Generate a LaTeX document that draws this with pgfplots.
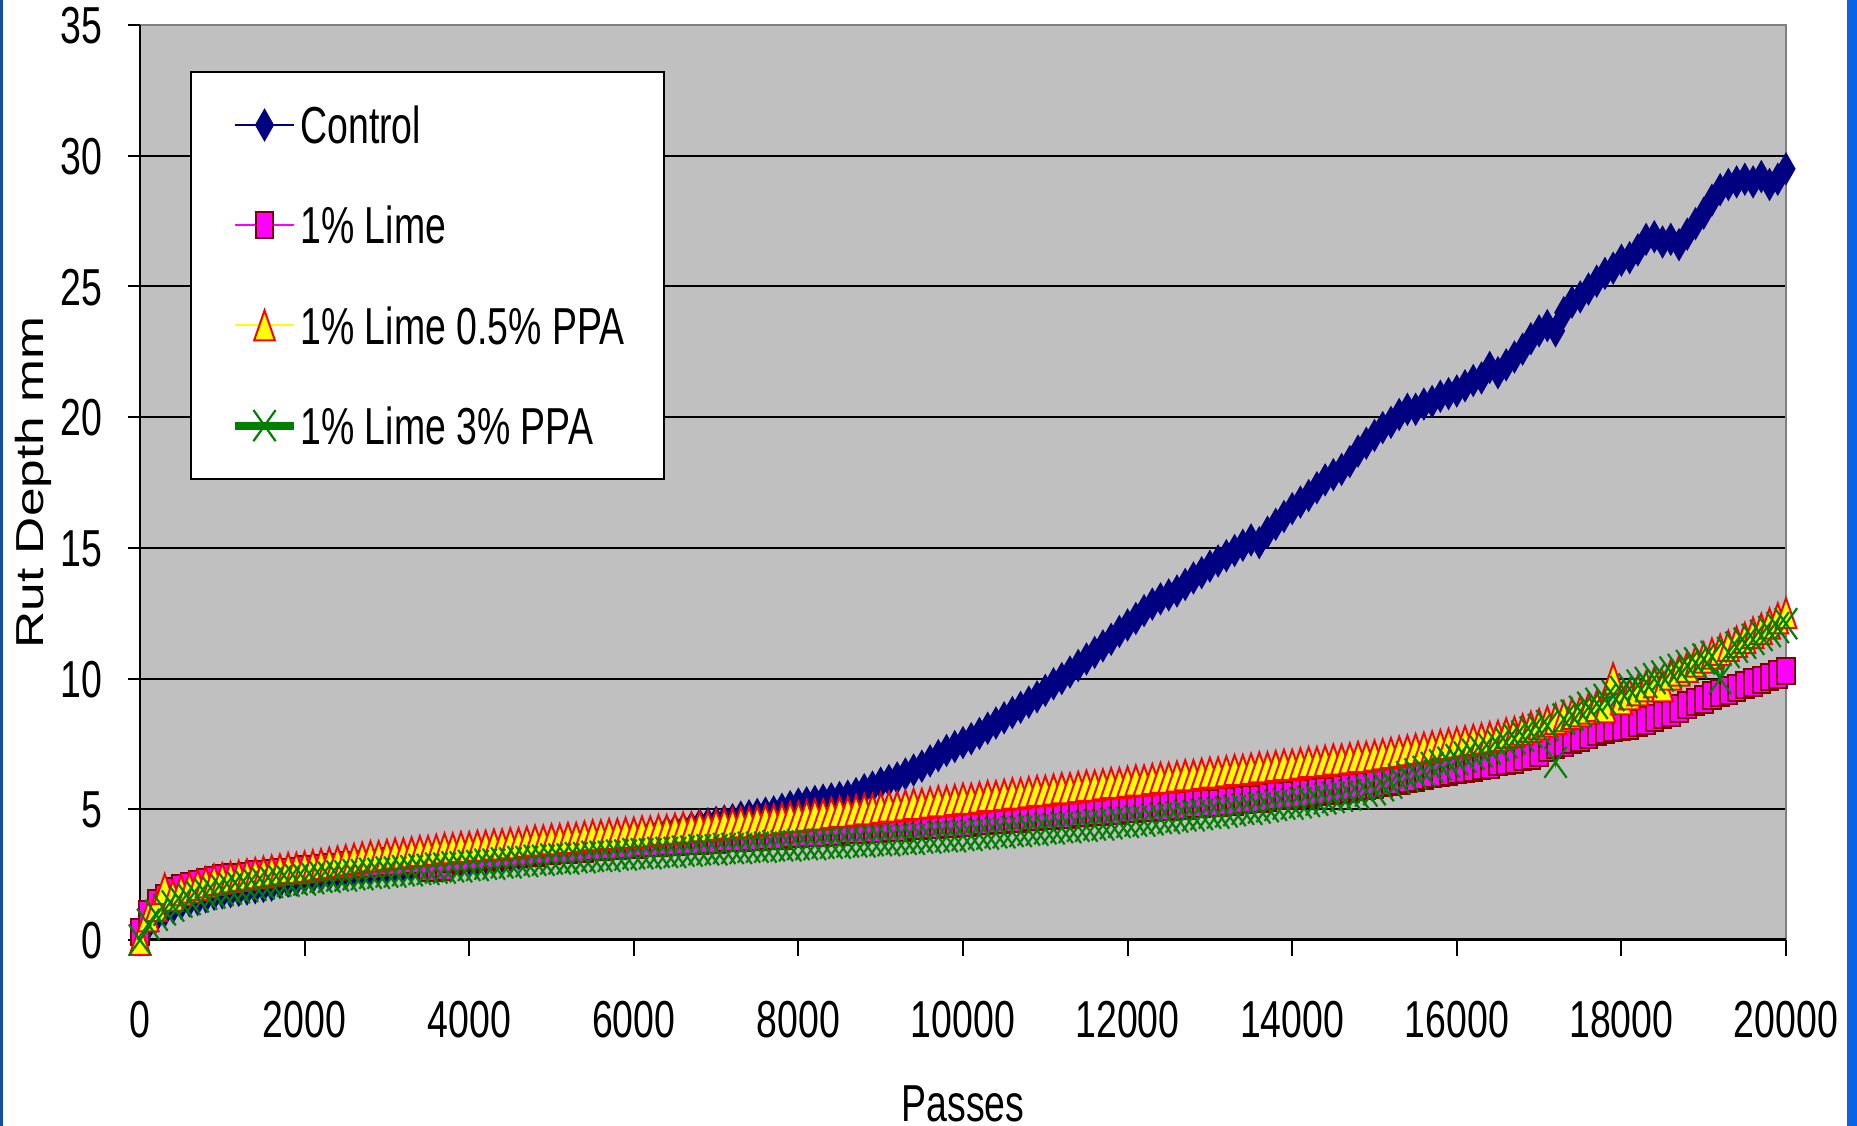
\documentclass[border=0pt]{standalone}
\usepackage{fontspec}
\setmainfont{Liberation Sans}[FakeStretch=0.72]
\newfontfamily\ylabfont{Liberation Sans}[FakeStretch=1.32]
\usepackage{pgfplots}
\pgfplotsset{compat=1.18}
\usepackage{pgfplotstable}

\definecolor{navy}{HTML}{000080}
\definecolor{limefill}{HTML}{FF00FF}
\definecolor{limeedge}{HTML}{800000}
\definecolor{ppayellow}{HTML}{FFFF00}
\definecolor{ppared}{HTML}{FF0000}
\definecolor{xgreen}{HTML}{008000}
\definecolor{plotgray}{HTML}{C0C0C0}
\definecolor{bordergray}{HTML}{808080}
\definecolor{leftblue}{HTML}{14509E}
\definecolor{rightblue}{HTML}{0A64E8}

% legend sample with a heavy line for the 3% PPA series
\pgfplotsset{thick green legend/.style={legend image code/.code={
    \draw[line width=2pt, xgreen] (0pt,0pt) -- (14.75pt,0pt);
    \draw[##1, only marks] plot coordinates {(7.375pt,0pt)};}}}

% rut depth (mm) against number of wheel passes
\pgfplotstableread{
x C L P G
0 0.0 0.3 0.0 0.0
100 0.6 1.0 0.9 0.6
200 0.9 1.4 1.3 0.95
300 1.1 1.6 1.95 1.15
400 1.25 1.85 1.7 1.3
500 1.4 2.0 1.9 1.45
600 1.5 2.05 2.0 1.55
700 1.55 2.15 2.1 1.65
800 1.65 2.2 2.2 1.75
900 1.75 2.3 2.3 1.8
1000 1.8 2.35 2.35 1.9
1100 1.85 2.4 2.4 1.95
1200 1.9 2.4 2.45 2.0
1300 1.95 2.45 2.5 2.05
1400 2.0 2.5 2.55 2.1
1500 2.05 2.5 2.6 2.15
1600 2.1 2.55 2.65 2.2
1700 2.2 2.6 2.7 2.25
1800 2.25 2.6 2.75 2.25
1900 2.3 2.65 2.75 2.3
2000 2.4 2.7 2.8 2.3
2100 2.4 2.7 2.85 2.35
2200 2.45 2.75 2.9 2.4
2300 2.5 2.8 2.95 2.4
2400 2.5 2.8 3.0 2.45
2500 2.55 2.85 3.05 2.45
2600 2.6 2.85 3.1 2.5
2700 2.65 2.9 3.15 2.5
2800 2.7 2.9 3.2 2.55
2900 2.75 2.95 3.2 2.55
3000 2.8 3.0 3.25 2.6
3100 2.8 3.0 3.3 2.6
3200 2.85 3.0 3.3 2.65
3300 2.85 3.05 3.35 2.65
3400 2.9 3.05 3.4 2.7
3500 2.9 2.75 3.4 2.7
3600 2.95 2.75 3.45 2.75
3700 3.0 2.8 3.5 2.75
3800 3.0 3.1 3.5 2.8
3900 3.05 3.15 3.55 2.8
4000 3.1 3.15 3.55 2.85
4100 3.1 3.2 3.6 2.85
4200 3.15 3.2 3.6 2.9
4300 3.2 3.25 3.65 2.9
4400 3.2 3.25 3.65 2.95
4500 3.25 3.3 3.7 2.95
4600 3.3 3.3 3.7 3.0
4700 3.35 3.35 3.75 3.0
4800 3.4 3.35 3.8 3.05
4900 3.45 3.4 3.8 3.05
5000 3.5 3.4 3.85 3.1
5100 3.5 3.45 3.85 3.1
5200 3.55 3.45 3.9 3.1
5300 3.6 3.5 3.9 3.15
5400 3.65 3.5 3.95 3.15
5500 3.7 3.55 4.0 3.2
5600 3.75 3.55 4.0 3.2
5700 3.8 3.6 4.05 3.2
5800 3.85 3.6 4.05 3.25
5900 3.9 3.65 4.1 3.25
6000 4.0 3.65 4.1 3.3
6100 4.0 3.7 4.15 3.3
6200 4.05 3.7 4.15 3.3
6300 4.1 3.7 4.2 3.35
6400 4.15 3.75 4.2 3.35
6500 4.2 3.75 4.25 3.35
6600 4.25 3.8 4.3 3.4
6700 4.3 3.8 4.3 3.4
6800 4.4 3.8 4.35 3.45
6900 4.45 3.85 4.35 3.45
7000 4.5 3.85 4.4 3.45
7100 4.55 3.9 4.45 3.5
7200 4.6 3.9 4.45 3.5
7300 4.7 3.9 4.5 3.5
7400 4.75 3.95 4.5 3.55
7500 4.8 3.95 4.55 3.55
7600 4.85 4.0 4.6 3.55
7700 4.9 4.0 4.6 3.6
7800 5.0 4.0 4.65 3.6
7900 5.1 4.05 4.7 3.6
8000 5.2 4.05 4.7 3.65
8100 5.25 4.1 4.75 3.65
8200 5.3 4.1 4.8 3.65
8300 5.35 4.1 4.8 3.7
8400 5.4 4.15 4.85 3.7
8500 5.45 4.15 4.9 3.7
8600 5.5 4.2 4.9 3.75
8700 5.6 4.2 4.95 3.75
8800 5.75 4.2 5.0 3.75
8900 5.85 4.25 5.0 3.8
9000 6.0 4.25 5.05 3.8
9100 6.1 4.3 5.1 3.8
9200 6.2 4.3 5.1 3.85
9300 6.35 4.3 5.15 3.85
9400 6.5 4.35 5.2 3.85
9500 6.65 4.35 5.2 3.9
9600 6.85 4.4 5.25 3.9
9700 7.05 4.4 5.3 3.95
9800 7.25 4.45 5.3 3.95
9900 7.4 4.45 5.35 3.95
10000 7.55 4.5 5.4 4.0
10100 7.7 4.5 5.4 4.0
10200 7.9 4.55 5.45 4.05
10300 8.1 4.55 5.5 4.05
10400 8.3 4.6 5.5 4.1
10500 8.5 4.6 5.55 4.1
10600 8.7 4.65 5.6 4.15
10700 8.9 4.65 5.6 4.15
10800 9.1 4.7 5.65 4.2
10900 9.3 4.7 5.7 4.2
11000 9.55 4.75 5.7 4.25
11100 9.8 4.75 5.75 4.25
11200 10.0 4.8 5.8 4.3
11300 10.25 4.8 5.8 4.3
11400 10.5 4.85 5.85 4.35
11500 10.75 4.85 5.9 4.35
11600 11.0 4.9 5.9 4.4
11700 11.25 4.9 5.95 4.4
11800 11.5 4.95 6.0 4.45
11900 11.8 4.95 6.0 4.5
12000 12.05 5.0 6.05 4.5
12100 12.3 5.0 6.1 4.55
12200 12.6 5.05 6.1 4.55
12300 12.85 5.05 6.15 4.6
12400 13.05 5.1 6.2 4.65
12500 13.2 5.1 6.2 4.65
12600 13.35 5.15 6.25 4.7
12700 13.6 5.15 6.3 4.75
12800 13.85 5.2 6.3 4.75
12900 14.05 5.2 6.35 4.8
13000 14.3 5.25 6.4 4.85
13100 14.5 5.25 6.4 4.85
13200 14.7 5.3 6.45 4.9
13300 14.9 5.3 6.5 4.95
13400 15.1 5.35 6.5 5.0
13500 15.3 5.4 6.55 5.0
13600 15.2 5.4 6.6 5.05
13700 15.6 5.45 6.6 5.1
13800 15.9 5.5 6.65 5.15
13900 16.2 5.5 6.7 5.2
14000 16.5 5.55 6.7 5.2
14100 16.75 5.6 6.75 5.25
14200 17.0 5.6 6.8 5.3
14300 17.3 5.65 6.8 5.35
14400 17.6 5.7 6.85 5.4
14500 17.8 5.7 6.9 5.45
14600 18.0 5.75 6.9 5.5
14700 18.3 5.8 6.95 5.55
14800 18.7 5.85 7.0 5.6
14900 19.0 5.9 7.0 5.7
15000 19.3 5.95 7.05 5.75
15100 19.6 6.0 7.1 5.9
15200 19.8 6.05 7.15 6.0
15300 20.1 6.1 7.2 6.15
15400 20.3 6.15 7.25 6.25
15500 20.3 6.2 7.3 6.35
15600 20.5 6.3 7.35 6.45
15700 20.6 6.35 7.4 6.6
15800 20.8 6.4 7.45 6.7
15900 20.9 6.45 7.5 6.8
16000 21.0 6.5 7.55 6.9
16100 21.2 6.55 7.6 7.0
16200 21.4 6.6 7.65 7.1
16300 21.5 6.65 7.7 7.2
16400 21.9 6.7 7.75 7.3
16500 21.7 6.8 7.8 7.45
16600 22.0 6.85 7.9 7.55
16700 22.3 6.9 7.95 7.7
16800 22.6 7.0 8.05 7.8
16900 23.0 7.05 8.15 7.95
17000 23.3 7.15 8.25 8.05
17100 23.5 7.35 8.35 8.2
17200 23.3 7.45 8.45 6.8
17300 24.0 7.55 8.55 8.45
17400 24.4 7.65 8.65 8.6
17500 24.6 7.75 8.75 8.75
17600 24.9 7.85 8.85 8.9
17700 25.2 7.95 8.95 9.05
17800 25.5 8.05 8.9 9.2
17900 25.7 8.1 10.0 9.35
18000 26.0 8.15 9.2 9.5
18100 26.1 8.2 9.4 9.6
18200 26.4 8.3 9.55 9.75
18300 26.8 8.4 9.7 9.85
18400 26.9 8.5 9.85 10.0
18500 26.7 8.6 9.7 10.1
18600 26.8 8.7 10.15 10.25
18700 26.6 8.85 10.3 10.35
18800 27.0 9.0 10.45 10.5
18900 27.4 9.1 10.65 10.6
19000 27.8 9.2 10.8 10.75
19100 28.3 9.35 10.95 10.85
19200 28.7 9.45 11.1 10.0
19300 28.9 9.55 11.25 11.0
19400 29.0 9.65 11.4 11.2
19500 29.1 9.75 11.55 11.35
19600 29.0 9.85 11.75 11.5
19700 29.2 9.95 11.9 11.65
19800 28.9 10.05 12.1 11.8
19900 29.1 10.15 12.3 11.95
20000 29.5 10.3 12.5 12.1
}\rutdata

\newcommand{\chartfont}{\fontsize{13}{15}\selectfont}

\begin{document}
\begin{tikzpicture}
\fill[white] (0,0) rectangle (464.25pt,281.5pt);
\path[use as bounding box] (0,0) rectangle (464.25pt,281.5pt);
\fill[leftblue] (0,0) rectangle (0.75pt,281.5pt);
\fill[rightblue] (461.75pt,0) rectangle (464.25pt,281.5pt);
\begin{axis}[
  at={(35pt,46.5pt)}, anchor=south west,
  scale only axis, width=411.5pt, height=228.75pt,
  xmin=0, xmax=20000, ymin=0, ymax=35,
  clip=false,
  scaled x ticks=false, scaled y ticks=false,
  axis background/.style={fill=plotgray},
  axis line style={draw=none},
  xtick={0,2000,...,20000},
  xticklabels={0,2000,4000,6000,8000,10000,12000,14000,16000,18000,20000},
  ytick={0,5,...,35},
  yticklabels={0,5,10,15,20,25,30,35},
  xtick pos=left, ytick pos=left,
  tick align=outside,
  xtick style={black, line width=0.5pt, /pgfplots/major tick length=4pt},
  ytick style={black, line width=0.5pt, /pgfplots/major tick length=3pt},
  ymajorgrids, grid style={black, line width=0.5pt},
  tick label style={font=\chartfont, inner sep=0pt, text height=9.3pt, text depth=0pt},
  xticklabel style={anchor=north, yshift=-10.5pt},
  yticklabel style={anchor=east, xshift=-5pt},
  xlabel={Passes},
  xlabel style={at={(axis description cs:0.5,-0.1563)}, anchor=north, inner sep=0pt,
    text height=9.3pt, text depth=0pt, font=\chartfont},
  ylabel={Rut Depth mm},
  ylabel style={at={(axis description cs:-0.0759,0.5)}, anchor=north, inner sep=0pt,
    text height=7pt, text depth=0pt, font=\ylabfont\fontsize{9.75}{11}\selectfont},
  legend style={at={(0.0304,0.9497)}, anchor=north west, draw=black, line width=0.5pt,
    fill=white, inner xsep=10pt, inner ysep=8.6pt, row sep=15.75pt, column sep=0.6pt,
    nodes={inner sep=0pt, text height=9.3pt, text depth=0pt}, font=\chartfont},
  legend cell align=left,
  legend image code/.code={\draw[mark repeat=2,mark phase=2,#1]
    plot coordinates {(0pt,0pt) (7.375pt,0pt) (14.75pt,0pt)};},
]
% plot-area frame: dark left and bottom axes, light top and right edges
\draw[line width=0.4pt, bordergray] (rel axis cs:0,1) -- (rel axis cs:1,1) -- (rel axis cs:1,0);
\draw[line width=0.5pt, black] (rel axis cs:0,1) -- (rel axis cs:0,0);
\draw[line width=0.75pt, black] (rel axis cs:0,0) -- (rel axis cs:1,0);

\addplot[color=navy, line width=0.5pt, mark=diamond*, mark size=3.9pt,
  mark options={solid, fill=navy, draw=navy, line width=0.3pt, xscale=0.76}]
  table[x=x, y=C] {\rutdata};
\addplot[color=limefill, line width=0.5pt, mark=square*, mark size=3.3pt,
  mark options={solid, fill=limefill, draw=limeedge, line width=0.5pt, xscale=0.667}]
  table[x=x, y=L] {\rutdata};
\addplot[color=ppayellow, line width=0.5pt, mark=triangle*, mark size=5pt,
  mark options={solid, fill=ppayellow, draw=ppared, line width=0.5pt, xscale=0.6, yshift=-1.25pt}]
  table[x=x, y=P] {\rutdata};
\addplot[color=xgreen, line width=0.6pt, mark=x, mark size=5.5pt,
  mark options={solid, draw=xgreen, line width=0.55pt, xscale=0.714},
  thick green legend]
  table[x=x, y=G] {\rutdata};

\legend{Control, 1\% Lime, 1\% Lime 0.5\% PPA, 1\% Lime 3\% PPA}
\end{axis}
\end{tikzpicture}
\end{document}
